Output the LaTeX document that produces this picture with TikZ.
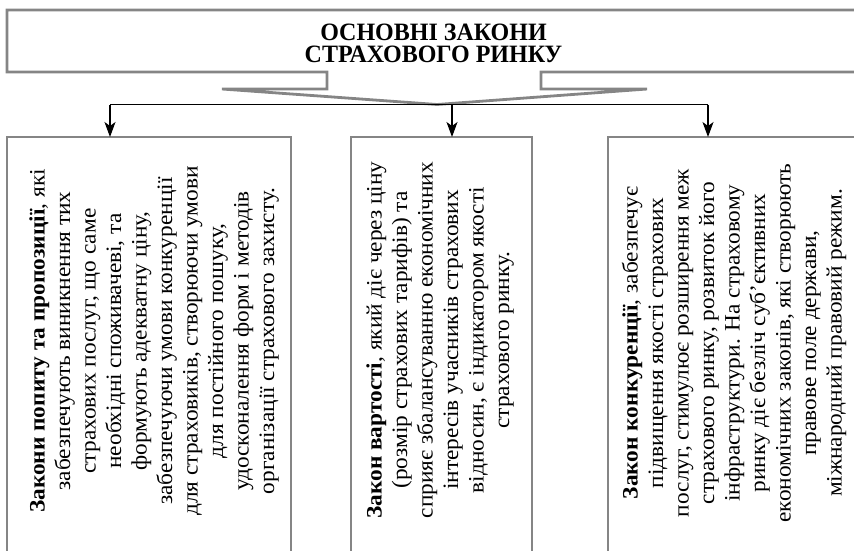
\documentclass[tikz,border=0pt]{standalone}
\usepackage{fontspec}
\setmainfont{Liberation Serif}
\usetikzlibrary{arrows.meta}
\definecolor{boxgray}{HTML}{858585}
\begin{document}
\begin{tikzpicture}[x=1pt,y=-1pt,
  frame/.style={draw=boxgray, line width=2.8pt},
  lawbox/.style={frame, rectangle, inner sep=0pt, outer sep=0pt, anchor=north west, minimum height=480pt},
  lawtext/.style={rotate=90, xscale=1.06, align=center, font=\fontsize{22}{25.5}\selectfont, inner sep=0pt},
  titletext/.style={anchor=base, yscale=1.04, font=\bfseries\fontsize{24}{24}\selectfont, inner sep=0pt},
  conn/.style={line width=1.2pt, -{Stealth[length=15pt,width=11pt,inset=4pt]}}
]
\clip (0,0) rectangle (854,550);
% top box with funnel
\draw[frame, line join=miter] (7,10) -- (880,10) -- (880,72) -- (541,72) -- (541,89) -- (647,89)
  -- (437,104.5) -- (222,89) -- (327,89) -- (327,72) -- (7,72) -- cycle;
\node[titletext] (title1) at (433.5,40.5) {ОСНОВНІ ЗАКОНИ};
\node[titletext] (title2) at (433.5,62.5) {СТРАХОВОГО РИНКУ};

% law boxes
\node[lawbox, minimum width=284pt] (lbox) at (7,137) {};
\node[lawbox, minimum width=181pt] (mbox) at (351,137) {};
\node[lawbox, minimum width=260pt] (rbox) at (608,137) {};

% connectors
\coordinate (jl) at (110,104.5);
\coordinate (jm) at (452,104.5);
\coordinate (jr) at (708,104.5);
\draw[line width=1.2pt] (jl) -- (jr);
\draw[conn] (jl) -- (jl |- lbox.north);
\draw[conn] (jm) -- (jm |- mbox.north);
\draw[conn] (jr) -- (jr |- rbox.north);

% texts
\node[lawtext] (ltext) at (154,341) {\textbf{Закони попиту та пропозиції}, які\\
забезпечують виникнення тих\\
страхових послуг, що саме\\
необхідні споживачеві, та\\
формують адекватну ціну,\\
забезпечуючи умови конкуренції\\
для страховиків, створюючи умови\\
для постійного пошуку,\\
удосконалення форм і методів\\
організації страхового захисту.};

\node[lawtext] (mtext) at (440,340) {\textbf{Закон вартості}, який діє через ціну\\
(розмір страхових тарифів) та\\
сприяє збалансуванню економічних\\
інтересів учасників страхових\\
відносин, є індикатором якості\\
страхового ринку.};

\node[lawtext] (rtext) at (734,343) {\textbf{Закон конкуренції}, забезпечує\\
підвищення якості страхових\\
послуг, стимулює розширення меж\\
страхового ринку, розвиток його\\
інфраструктури. На страховому\\
ринку діє безліч суб’єктивних\\
економічних законів, які створюють\\
правове поле держави,\\
міжнародний правовий режим.};
\end{tikzpicture}
\end{document}
